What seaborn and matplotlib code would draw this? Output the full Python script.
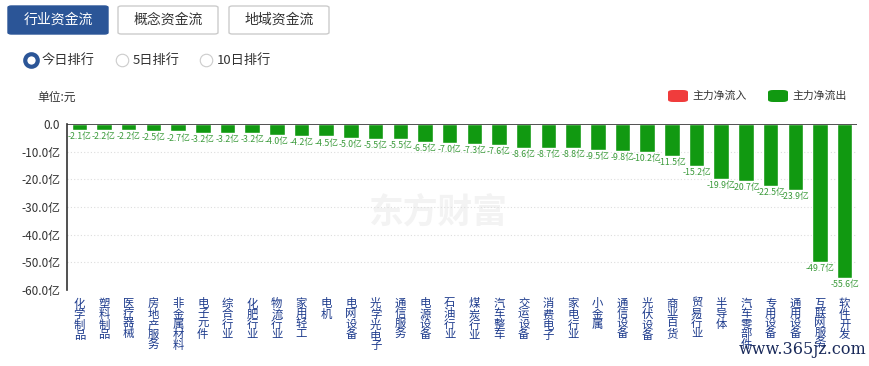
import seaborn as sns
import pandas as pd
import matplotlib.pyplot as plt
from matplotlib.patches import FancyBboxPatch
from matplotlib.lines import Line2D

industries = ['化学制品', '塑料制品', '医疗器械', '房地产服务', '非金属材料', '电子元件', '综合行业', '化肥行业',
              '物流行业', '家用轻工', '电机', '电网设备', '光学光电子', '通信服务', '电源设备', '石油行业',
              '煤炭行业', '汽车整车', '交运设备', '消费电子', '家电行业', '小金属', '通信设备', '光伏设备',
              '商业百货', '贸易行业', '半导体', '汽车零部件', '专用设备', '通用设备', '互联网服务', '软件开发']
net_flow = [-2.1, -2.2, -2.2, -2.5, -2.7, -3.2, -3.2, -3.2, -4.0, -4.2, -4.5, -5.0, -5.5, -5.5, -6.5, -7.0,
            -7.3, -7.6, -8.6, -8.7, -8.8, -9.5, -9.8, -10.2, -11.5, -15.2, -19.9, -20.7, -22.5, -23.9, -49.7, -55.6]
y_ticks = [0, -10, -20, -30, -40, -50, -60]
tabs = ['行业资金流', '概念资金流', '地域资金流']
periods = ['今日排行', '5日排行', '10日排行']

df = pd.DataFrame({'行业': industries, '净流': net_flow})

sns.set_style('white')
plt.rcParams['font.family'] = ['Noto Sans CJK SC', 'DejaVu Sans']

fig = plt.figure(figsize=(8.7, 3.66), dpi=100)
ax = fig.add_axes([67 / 870, 76 / 366, 790 / 870, 166 / 366])

# watermark behind bars
ax.text(0.47, 0.47, '东方财富', transform=ax.transAxes, fontsize=25, fontweight='bold',
        color='#f3f3f3', ha='center', va='center', zorder=0)

sns.barplot(data=df, x='行业', y='净流', color='#119911', width=0.63, saturation=1, ax=ax, zorder=3)
labels = ['%.1f亿' % v for v in net_flow]
ax.bar_label(ax.containers[0], labels=labels, padding=1.5, fontsize=6.3, color='#3a9a3a')

ax.set_ylim(-60, 0)
ax.set_xlim(-0.5, len(industries) - 0.5)
ax.set_yticks(y_ticks)
ax.set_yticklabels(['0.0'] + ['%.1f亿' % v for v in y_ticks[1:]], fontsize=8.5, color='#333333')
ax.set_xticks(range(len(industries)))
ax.set_xticklabels(['\n'.join(n) for n in industries], fontsize=8.2, color='#1c3a8c', linespacing=0.98)
ax.tick_params(axis='both', length=0, pad=5)
ax.tick_params(axis='x', pad=6)
ax.set_xlabel('')
ax.set_ylabel('')
for v in y_ticks[1:-1]:
    ax.axhline(v, color='#dddddd', lw=0.8, ls=(0, (1, 2)), zorder=1)
ax.axhline(0, color='#333333', lw=1.2, zorder=4)
ax.spines['right'].set_visible(False)
ax.spines['bottom'].set_visible(False)
ax.spines['top'].set_visible(False)
ax.spines['left'].set_color('#333333')
ax.spines['left'].set_linewidth(1.2)

# tab buttons
W, H = 870, 366
for i, (t, x0) in enumerate(zip(tabs, [8, 118, 229])):
    active = i == 0
    box = FancyBboxPatch((x0 / W, (H - 34) / H), 100 / W, 28 / H,
                         boxstyle='round,pad=0,rounding_size=0.004', transform=fig.transFigure,
                         facecolor='#2b5597' if active else 'white',
                         edgecolor='#2b5597' if active else '#cccccc', lw=1)
    fig.patches.append(box)
    fig.text((x0 + 50) / W, (H - 20) / H, t, ha='center', va='center', fontsize=10,
             color='white' if active else '#333333')

# period radios
for i, (p, x0) in enumerate(zip(periods, [31, 122, 206])):
    if i == 0:
        fig.add_artist(Line2D([x0 / W], [(H - 60) / H], marker='o', ms=9, mfc='white', mec='#2b5597',
                              mew=3, transform=fig.transFigure))
    else:
        fig.add_artist(Line2D([x0 / W], [(H - 60) / H], marker='o', ms=9, mfc='white', mec='#cccccc',
                              mew=0.8, transform=fig.transFigure))
    fig.text((x0 + 11) / W, (H - 60) / H, p, ha='left', va='center', fontsize=9.5, color='#333333')

fig.text(37 / W, (H - 97) / H, '单位:元', ha='left', va='center', fontsize=8.5, color='#333333')

# legend
for lx, col, lab in [(668, '#f03c3c', '主力净流入'), (768, '#119911', '主力净流出')]:
    patch = FancyBboxPatch((lx / W, (H - 102) / H), 20 / W, 12 / H,
                           boxstyle='round,pad=0,rounding_size=0.006', transform=fig.transFigure,
                           facecolor=col, edgecolor='none')
    fig.patches.append(patch)
    fig.text((lx + 24) / W, (H - 96) / H, lab, ha='left', va='center', fontsize=7.8, color='#333333')

fig.text(866 / W, (H - 350) / H, 'www.365jz.com', ha='right', va='center', fontsize=11.5,
         family='DejaVu Serif', color='#1a2a5a')

fig.savefig('out.png', dpi=100)
